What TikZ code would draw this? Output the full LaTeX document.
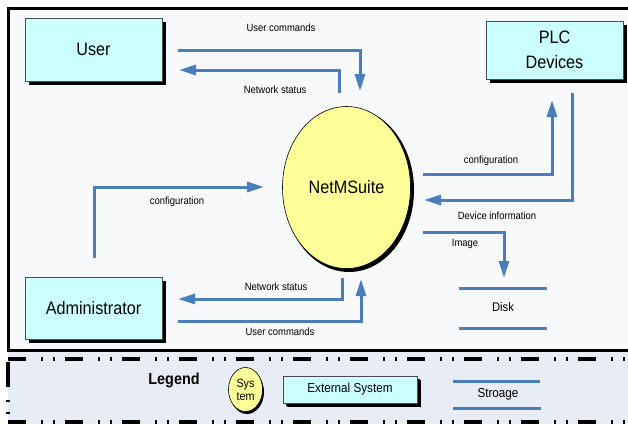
\documentclass[tikz,border=0pt]{standalone}
\usepackage{fontspec}
\setmainfont[FakeStretch=0.9]{Liberation Sans}
\usetikzlibrary{arrows.meta,shadows,shapes.geometric}
\definecolor{flow}{RGB}{74,126,187}
\definecolor{extfill}{RGB}{204,255,255}
\definecolor{sysfill}{RGB}{255,255,153}
\definecolor{framebg}{RGB}{247,249,251}
\definecolor{legbg}{RGB}{232,236,244}
\tikzset{
  extbox/.style={draw=black!70, line width=0.8pt, fill=extfill, align=center,
    drop shadow={shadow xshift=4pt, shadow yshift=-4pt, fill=black, opacity=1}},
  flowline/.style={draw=flow, line width=3pt, -{Triangle[length=17pt,width=10pt]}},
  lbl/.style={font=\fontsize{10.5}{12}\selectfont, inner sep=0pt},
  storeline/.style={draw=flow, line width=3pt},
  legdash/.style={line width=4pt, dash pattern=on 18pt off 15pt on 2pt off 10pt on 2pt off 10pt}
}
\begin{document}
\begin{tikzpicture}[x=1pt,y=-1pt]
\useasboundingbox (0,0) rectangle (628,423);
\begin{scope}
\clip (0,0) rectangle (628,423);
% legend background
\fill[legbg] (8,352) rectangle (640,430);
\draw[legdash] (8,359) -- (640,359);
\draw[legdash] (8,422) -- (640,422);
\draw[legdash, dash pattern=on 25pt off 13pt on 2pt off 10pt on 2pt off 10pt] (8,362) -- (8,423);
% main frame
\draw[line width=3pt, fill=framebg] (8,8) rectangle (640,350);
\end{scope}

% external systems
\node[extbox, minimum width=137pt, minimum height=63pt, font=\fontsize{18}{20}\selectfont] (user) at (93.5,49.5) {User};
\node[extbox, minimum width=137pt, minimum height=58pt, font=\fontsize{18}{25}\selectfont] (plc) at (554.5,50) {PLC\\Devices};
\node[extbox, minimum width=137pt, minimum height=62pt, font=\fontsize{18}{20}\selectfont] (admin) at (93.5,308) {Administrator};

% central process
\fill[black] (349,190) ellipse [x radius=65, y radius=82];
\node[draw=black, line width=0.6pt, fill=sysfill, ellipse, minimum width=128pt, minimum height=162pt, inner sep=0pt,
  font=\fontsize{18}{20}\selectfont] (net) at (346.5,187.5) {NetMSuite};

% disk store
\node[font=\fontsize{12.5}{14}\selectfont] (disk) at (503,307) {Disk};
\coordinate (d1a) at (459,288); \coordinate (d1b) at (547,288);
\coordinate (d2a) at (459,328); \coordinate (d2b) at (547,328);
\draw[storeline] (d1a) -- (d1b);
\draw[storeline] (d2a) -- (d2b);

% connector end points
\coordinate (ucS) at (178,50);  \coordinate (ucE) at (360,91);
\coordinate (nsS) at (339,93);  \coordinate (nsE) at (179,70);
\coordinate (cfS) at (94,258);  \coordinate (cfE) at (264,187);
\coordinate (ns2S) at (342,278); \coordinate (ns2E) at (178,299);
\coordinate (uc2S) at (178,321); \coordinate (uc2E) at (361,279);
\coordinate (pcS) at (423,174); \coordinate (pcE) at (552,100);
\coordinate (diS) at (572,93);  \coordinate (diE) at (424,200);
\coordinate (imS) at (423,232); \coordinate (imE) at (504,278);

\draw[flowline] (ucS) -| (ucE);
\draw[flowline] (nsS) |- (nsE);
\draw[flowline] (cfS) |- (cfE);
\draw[flowline] (ns2S) |- (ns2E);
\draw[flowline] (uc2S) -| (uc2E);
\draw[flowline] (pcS) -| (pcE);
\draw[flowline] (diS) |- (diE);
\draw[flowline] (imS) -| (imE);

% labels
\node[lbl] (l1) at (281,28) {User commands};
\node[lbl] (l2) at (275,90) {Network status};
\node[lbl] (l3) at (177,202) {configuration};
\node[lbl] (l4) at (276,287) {Network status};
\node[lbl] (l5) at (280,332) {User commands};
\node[lbl] (l6) at (491,161) {configuration};
\node[lbl] (l7) at (497,216) {Device information};
\node[lbl] (l8) at (465,244) {Image};

% legend
\node[font=\bfseries\fontsize{16}{18}\selectfont] (leg) at (174,380) {Legend};
\fill[black] (247,392) ellipse [x radius=17, y radius=22];
\node[draw=black, line width=0.6pt, fill=sysfill, ellipse, minimum width=34pt, minimum height=44pt, inner sep=0pt,
  align=center, font=\fontsize{12}{13}\selectfont] (sys) at (245.5,389.5) {Sys\\tem};
\node[extbox, minimum width=134pt, minimum height=27pt, font=\fontsize{13}{14}\selectfont, drop shadow={shadow xshift=3pt, shadow yshift=-3pt, fill=black, opacity=1}] (ext) at (350,389.5) {External System};
\node[font=\fontsize{13}{14}\selectfont] (stor) at (498,394) {Stroage};
\coordinate (s1a) at (453,381); \coordinate (s1b) at (540,381);
\coordinate (s2a) at (453,408); \coordinate (s2b) at (541,408);
\draw[storeline] (s1a) -- (s1b);
\draw[storeline] (s2a) -- (s2b);
\end{tikzpicture}
\end{document}
